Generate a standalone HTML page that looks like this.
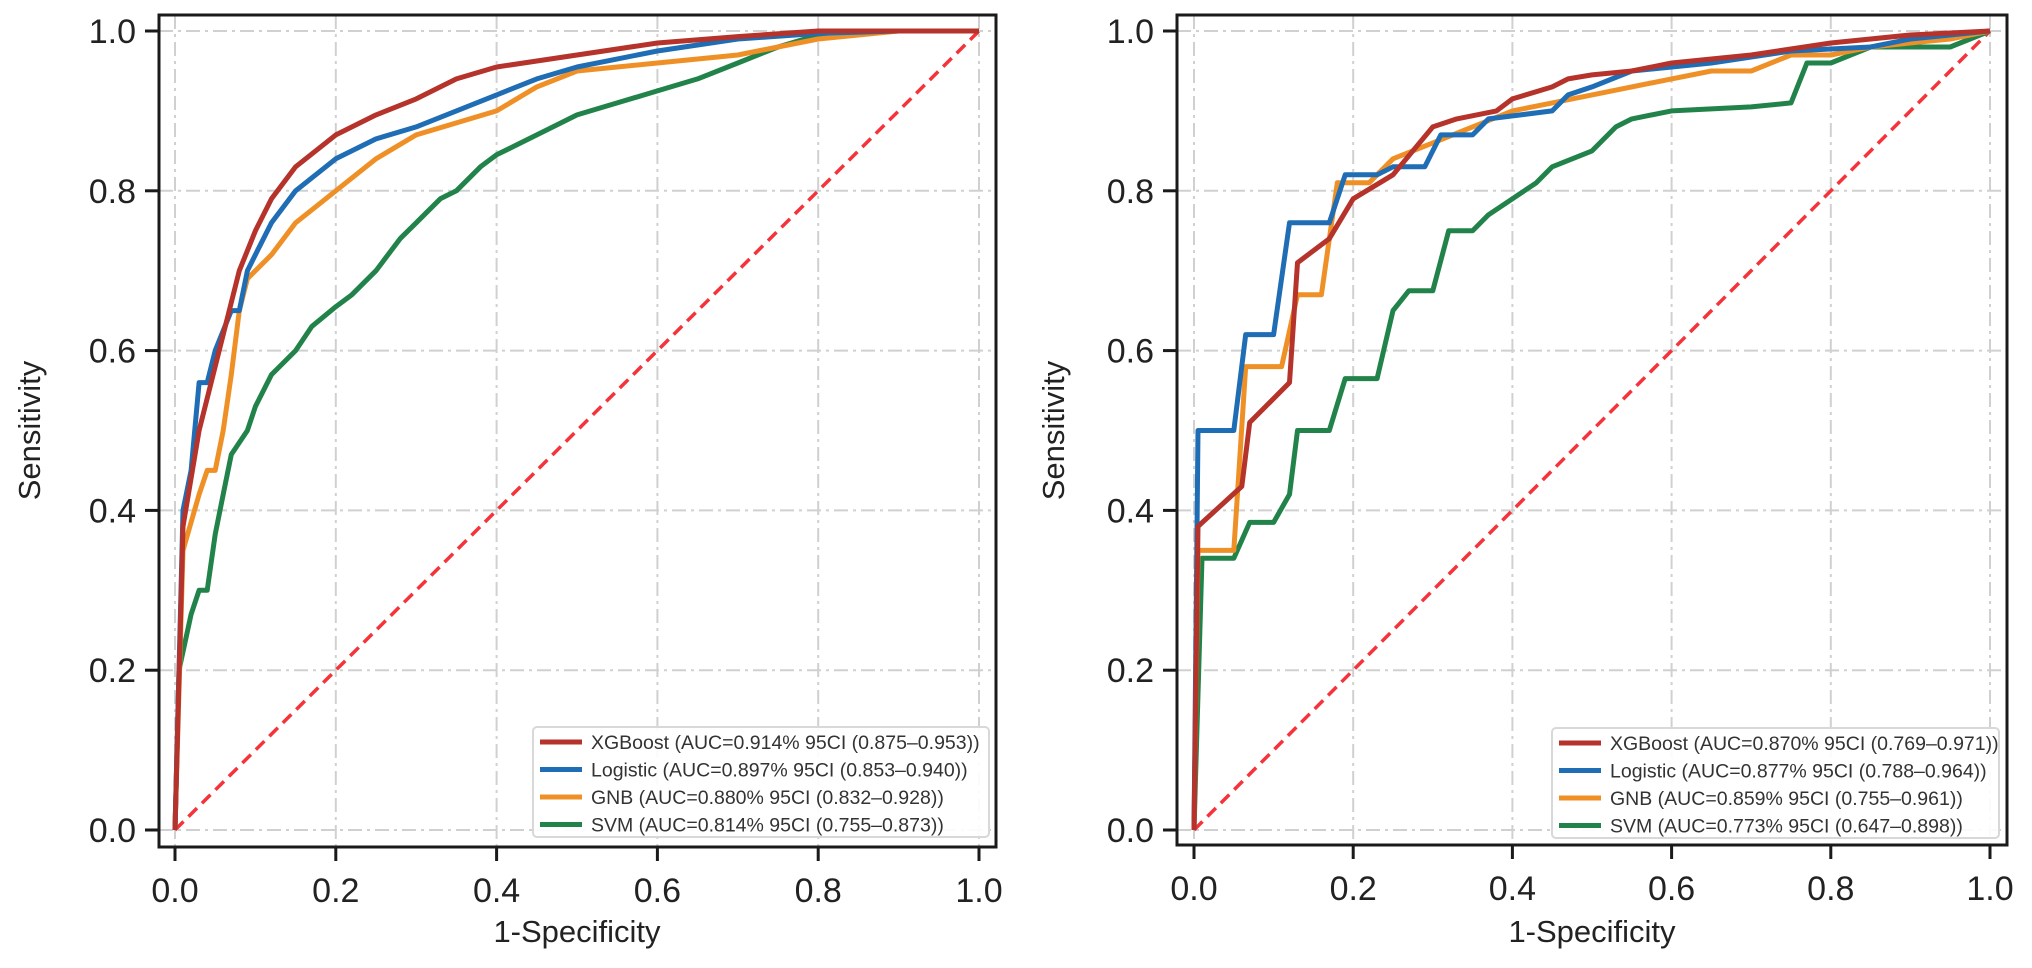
<!DOCTYPE html>
<html><head><meta charset="utf-8">
<style>
html,body{margin:0;padding:0;background:#fff;}
svg{display:block;font-family:"Liberation Sans",Arial,sans-serif;}
</style></head>
<body>
<svg id="chart" width="2032" height="968" viewBox="0 0 2032 968" xmlns="http://www.w3.org/2000/svg"></svg>
<script>
// ---- data ----
const ticks = [0, 0.2, 0.4, 0.6, 0.8, 1.0];
const tickLabels = ["0.0", "0.2", "0.4", "0.6", "0.8", "1.0"];
const seriesNames = ["XGBoost", "Logistic", "GNB", "SVM"];
const legendLeft = [
  "XGBoost (AUC=0.914% 95CI (0.875–0.953))",
  "Logistic (AUC=0.897% 95CI (0.853–0.940))",
  "GNB (AUC=0.880% 95CI (0.832–0.928))",
  "SVM (AUC=0.814% 95CI (0.755–0.873))"];
const legendRight = [
  "XGBoost (AUC=0.870% 95CI (0.769–0.971))",
  "Logistic (AUC=0.877% 95CI (0.788–0.964))",
  "GNB (AUC=0.859% 95CI (0.755–0.961))",
  "SVM (AUC=0.773% 95CI (0.647–0.898))"];
// left panel curves: [fpr, tpr]
const leftXGB = [[0,0],[0.01,0.38],[0.03,0.5],[0.06,0.62],[0.08,0.7],[0.1,0.75],[0.12,0.79],[0.15,0.83],[0.2,0.87],[0.25,0.895],[0.3,0.915],[0.35,0.94],[0.4,0.955],[0.5,0.97],[0.6,0.985],[0.7,0.993],[0.8,1],[1,1]];
const leftLog = [[0,0],[0.01,0.4],[0.02,0.45],[0.03,0.56],[0.04,0.56],[0.05,0.6],[0.07,0.65],[0.08,0.65],[0.09,0.7],[0.1,0.72],[0.12,0.76],[0.15,0.8],[0.2,0.84],[0.25,0.865],[0.3,0.88],[0.35,0.9],[0.4,0.92],[0.45,0.94],[0.5,0.955],[0.6,0.975],[0.7,0.99],[0.8,0.997],[0.9,1],[1,1]];
const leftGNB = [[0,0],[0.01,0.35],[0.03,0.42],[0.04,0.45],[0.05,0.45],[0.06,0.5],[0.07,0.57],[0.08,0.65],[0.09,0.69],[0.12,0.72],[0.15,0.76],[0.2,0.8],[0.25,0.84],[0.3,0.87],[0.35,0.885],[0.4,0.9],[0.45,0.93],[0.5,0.95],[0.6,0.96],[0.7,0.97],[0.8,0.99],[0.9,1],[1,1]];
const leftSVM = [[0,0],[0.005,0.2],[0.02,0.27],[0.03,0.3],[0.04,0.3],[0.05,0.37],[0.06,0.42],[0.07,0.47],[0.09,0.5],[0.1,0.53],[0.12,0.57],[0.15,0.6],[0.17,0.63],[0.2,0.655],[0.22,0.67],[0.25,0.7],[0.28,0.74],[0.3,0.76],[0.33,0.79],[0.35,0.8],[0.38,0.83],[0.4,0.845],[0.45,0.87],[0.5,0.895],[0.55,0.91],[0.6,0.925],[0.65,0.94],[0.7,0.96],[0.75,0.98],[0.8,0.995],[0.85,1],[1,1]];
// right panel curves
const rightXGB = [[0,0],[0.005,0.38],[0.06,0.43],[0.07,0.51],[0.12,0.56],[0.13,0.71],[0.17,0.74],[0.2,0.79],[0.25,0.82],[0.3,0.88],[0.33,0.89],[0.38,0.9],[0.4,0.915],[0.45,0.93],[0.47,0.94],[0.5,0.945],[0.55,0.95],[0.6,0.96],[0.7,0.97],[0.8,0.985],[0.9,0.995],[1,1]];
const rightLog = [[0,0],[0.005,0.5],[0.05,0.5],[0.065,0.62],[0.1,0.62],[0.12,0.76],[0.17,0.76],[0.19,0.82],[0.23,0.82],[0.25,0.83],[0.29,0.83],[0.31,0.87],[0.35,0.87],[0.37,0.89],[0.45,0.9],[0.47,0.92],[0.5,0.93],[0.55,0.95],[0.65,0.96],[0.75,0.975],[0.85,0.98],[0.9,0.99],[1,1]];
const rightGNB = [[0,0],[0.005,0.35],[0.05,0.35],[0.065,0.58],[0.11,0.58],[0.13,0.67],[0.16,0.67],[0.18,0.81],[0.22,0.81],[0.25,0.84],[0.3,0.86],[0.35,0.88],[0.4,0.9],[0.45,0.91],[0.5,0.92],[0.6,0.94],[0.65,0.95],[0.7,0.95],[0.75,0.97],[0.8,0.97],[0.85,0.98],[0.95,0.99],[1,1]];
const rightSVM = [[0,0],[0.01,0.34],[0.05,0.34],[0.07,0.385],[0.1,0.385],[0.12,0.42],[0.13,0.5],[0.17,0.5],[0.19,0.565],[0.23,0.565],[0.25,0.65],[0.27,0.675],[0.3,0.675],[0.32,0.75],[0.35,0.75],[0.37,0.77],[0.4,0.79],[0.43,0.81],[0.45,0.83],[0.5,0.85],[0.53,0.88],[0.55,0.89],[0.6,0.9],[0.7,0.905],[0.75,0.91],[0.77,0.96],[0.8,0.96],[0.85,0.98],[0.95,0.98],[1,1]];

const colors = ["#b5332a", "#1f6db4", "#ef9027", "#22834a"];
const NS = "http://www.w3.org/2000/svg";
const svg = document.getElementById("chart");
function mk(tag, attrs, parent) {
  const e = document.createElementNS(NS, tag);
  for (const k in attrs) e.setAttribute(k, attrs[k]);
  (parent || svg).appendChild(e);
  return e;
}

function panel(cfg, curves, legend, prefix) {
  const g = mk("g", {});
  
  
  const sx = v => cfg.x0 + v * (cfg.x1 - cfg.x0);
  const sy = v => cfg.y0 + v * (cfg.y1 - cfg.y0);
  ticks.forEach(t => {
    const gl = mk("line", {x1: sx(t), x2: sx(t), y1: cfg.top, y2: cfg.bottom, stroke: "#d0d0d0", "stroke-width": 2, "stroke-dasharray": "14 5 3 5"}, g);
    
    
    const gh = mk("line", {x1: cfg.left, x2: cfg.right, y1: sy(t), y2: sy(t), stroke: "#d0d0d0", "stroke-width": 2, "stroke-dasharray": "14 5 3 5"}, g);
    
    
  });
  const d = mk("line", {x1: sx(0), y1: sy(0), x2: sx(1), y2: sy(1), stroke: "#f5333a", "stroke-width": 3.5, "stroke-dasharray": "12 7"}, g);
  
  
  [3, 2, 1, 0].forEach(i => {
    const pts = curves[i].map(p => sx(p[0]).toFixed(1) + "," + sy(p[1]).toFixed(1)).join(" ");
    const pl = mk("polyline", {points: pts, fill: "none", stroke: colors[i], "stroke-width": 5, "stroke-linejoin": "round"}, g);
    
    
  });
  const fr = mk("rect", {x: cfg.left, y: cfg.top, width: cfg.right - cfg.left, height: cfg.bottom - cfg.top, fill: "none", stroke: "#1a1a1a", "stroke-width": 3}, g);
  
  
  ticks.forEach((t, i) => {
    const a = mk("line", {x1: sx(t), x2: sx(t), y1: cfg.bottom, y2: cfg.bottom + 14, stroke: "#1a1a1a", "stroke-width": 3}, g);
    
    
    const tx = mk("text", {x: sx(t), y: cfg.bottom + 55, "text-anchor": "middle", "font-size": 34, fill: "#222"}, g);
    
    
    tx.textContent = tickLabels[i];
    const b = mk("line", {x1: cfg.left - 14, x2: cfg.left, y1: sy(t), y2: sy(t), stroke: "#1a1a1a", "stroke-width": 3}, g);
    
    
    const ty = mk("text", {x: cfg.left - 23, y: sy(t) + 12, "text-anchor": "end", "font-size": 34, fill: "#222"}, g);
    
    
    ty.textContent = tickLabels[i];
  });
  const xl = mk("text", {x: (cfg.x0 + cfg.x1) / 2, y: 942, "text-anchor": "middle", "font-size": 31, fill: "#222"}, g);
  
  
  xl.textContent = "1-Specificity";
  const yl = mk("text", {x: 0, y: 0, "text-anchor": "middle", "font-size": 31, fill: "#222", transform: "translate(" + cfg.ylabX + "," + (cfg.y0 + cfg.y1) / 2 + ") rotate(-90)"}, g);
  
  
  yl.textContent = "Sensitivity";
  const lg = mk("g", {}, g);
  
  
  mk("rect", {x: cfg.lx, y: cfg.ly, width: cfg.lw, height: 110, rx: 4, fill: "#fff", "fill-opacity": 0.9, stroke: "#d8d8d8", "stroke-width": 2}, lg);
  legend.forEach((txt, i) => {
    const yy = cfg.ly + 15 + i * 27.5;
    const sw = mk("line", {x1: cfg.lx + 7, x2: cfg.lx + 49, y1: yy, y2: yy, stroke: colors[i], "stroke-width": 5}, lg);
    
    
    const t = mk("text", {x: cfg.lx + 58, y: yy + 7, "font-size": 19.5, fill: "#333"}, lg);
    
    
    t.textContent = txt;
  });
}

panel({x0: 175, x1: 979, y0: 830, y1: 31, left: 159, right: 996, top: 15, bottom: 847, ylabX: 40, lx: 533, ly: 727, lw: 456},
  [leftXGB, leftLog, leftGNB, leftSVM], legendLeft, "left");
panel({x0: 1194, x1: 1990, y0: 830, y1: 31, left: 1177, right: 2007, top: 15, bottom: 845, ylabX: 1064, lx: 1552, ly: 728, lw: 447},
  [rightXGB, rightLog, rightGNB, rightSVM], legendRight, "right");
</script>
</body></html>
